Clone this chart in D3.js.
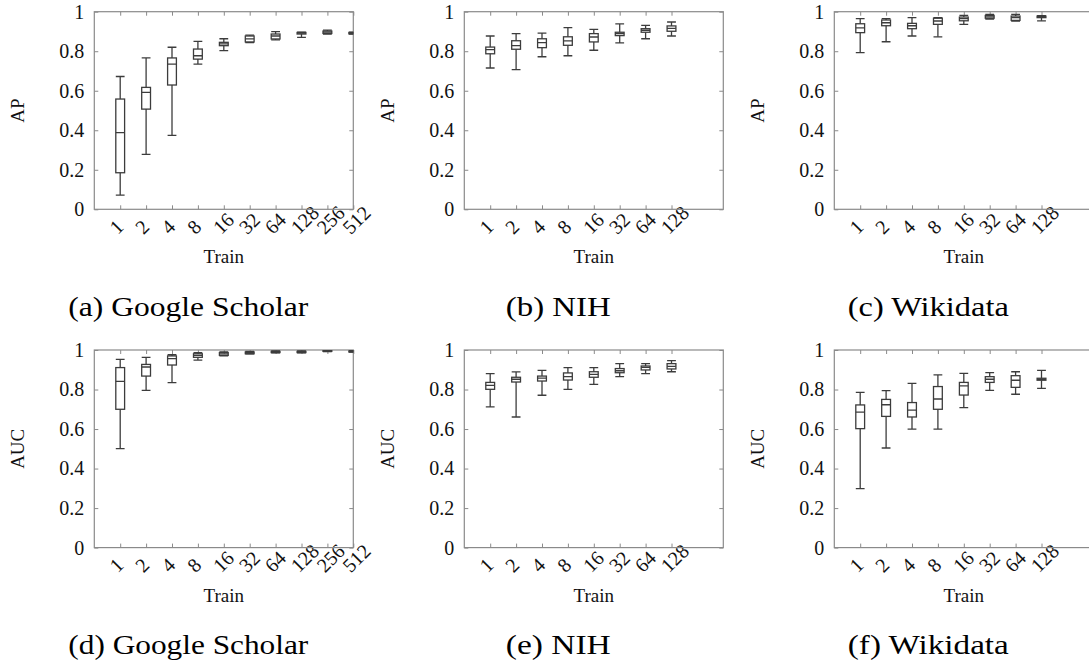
<!DOCTYPE html>
<html>
<head>
<meta charset="utf-8">
<script src="https://cdn.jsdelivr.net/npm/d3@7"></script>
<style>
  html, body { margin: 0; padding: 0; background: #fff; }
  svg { display: block; }
  svg text { font-family: "Liberation Serif", "Times New Roman", Times, serif; }
</style>
</head>
<body>
<svg id="fig" width="1089" height="664"></svg>
<script>
// Training-set sizes on the x axis (log2 spaced, one slot each)
const trainLabels = ["1", "2", "4", "8", "16", "32", "64", "128", "256", "512"];
const yTicks = [0, 0.2, 0.4, 0.6, 0.8, 1];

// Box statistics per training size: [lower whisker, Q1, median, Q3, upper whisker]
const apScholar = [
  [0.072, 0.185, 0.388, 0.558, 0.672],
  [0.278, 0.507, 0.592, 0.617, 0.766],
  [0.374, 0.629, 0.735, 0.766, 0.820],
  [0.735, 0.760, 0.777, 0.811, 0.850],
  [0.803, 0.828, 0.837, 0.845, 0.863],
  [0.843, 0.847, 0.862, 0.877, 0.881],
  [0.857, 0.862, 0.877, 0.887, 0.899],
  [0.870, 0.887, 0.892, 0.895, 0.897],
  [0.887, 0.890, 0.897, 0.902, 0.907],
  [0.887, 0.888, 0.892, 0.895, 0.897]
];
const apNih = [
  [0.715, 0.787, 0.808, 0.821, 0.877],
  [0.707, 0.810, 0.828, 0.853, 0.889],
  [0.772, 0.818, 0.843, 0.863, 0.892],
  [0.777, 0.830, 0.852, 0.873, 0.919],
  [0.805, 0.847, 0.872, 0.889, 0.911],
  [0.842, 0.879, 0.889, 0.896, 0.938],
  [0.863, 0.896, 0.906, 0.914, 0.931],
  [0.877, 0.901, 0.916, 0.928, 0.948]
];
const apWikidata = [
  [0.793, 0.894, 0.918, 0.939, 0.965],
  [0.848, 0.929, 0.944, 0.958, 0.965],
  [0.877, 0.914, 0.929, 0.941, 0.970],
  [0.873, 0.936, 0.953, 0.967, 0.970],
  [0.936, 0.954, 0.965, 0.973, 0.981],
  [0.963, 0.967, 0.974, 0.981, 0.986],
  [0.953, 0.956, 0.970, 0.978, 0.986],
  [0.954, 0.970, 0.975, 0.978, 0.980]
];
const aucScholar = [
  [0.501, 0.700, 0.841, 0.911, 0.953],
  [0.796, 0.868, 0.914, 0.927, 0.963],
  [0.835, 0.924, 0.956, 0.970, 0.976],
  [0.949, 0.963, 0.973, 0.981, 0.987],
  [0.971, 0.973, 0.980, 0.987, 0.990],
  [0.980, 0.981, 0.987, 0.990, 0.993],
  [0.985, 0.987, 0.990, 0.993, 0.995],
  [0.985, 0.987, 0.990, 0.993, 0.996],
  [0.992, 0.993, 0.995, 0.997, 0.998],
  [0.989, 0.990, 0.993, 0.995, 0.997]
];
const aucNih = [
  [0.712, 0.801, 0.821, 0.836, 0.880],
  [0.661, 0.838, 0.852, 0.862, 0.889],
  [0.771, 0.843, 0.858, 0.868, 0.897],
  [0.801, 0.848, 0.865, 0.884, 0.911],
  [0.826, 0.862, 0.877, 0.890, 0.911],
  [0.865, 0.885, 0.895, 0.906, 0.931],
  [0.880, 0.899, 0.912, 0.919, 0.931],
  [0.890, 0.904, 0.917, 0.931, 0.946]
];
const aucWikidata = [
  [0.298, 0.602, 0.686, 0.722, 0.786],
  [0.504, 0.664, 0.723, 0.750, 0.794],
  [0.600, 0.661, 0.696, 0.734, 0.831],
  [0.600, 0.700, 0.752, 0.815, 0.874],
  [0.708, 0.772, 0.818, 0.836, 0.882],
  [0.796, 0.836, 0.852, 0.865, 0.885],
  [0.776, 0.811, 0.847, 0.870, 0.890],
  [0.806, 0.847, 0.852, 0.857, 0.897]
];

const panels = [
  { key: "a", metric: "AP",  caption: "(a) Google Scholar", stats: apScholar,   col: 0, row: 0 },
  { key: "b", metric: "AP",  caption: "(b) NIH",            stats: apNih,       col: 1, row: 0 },
  { key: "c", metric: "AP",  caption: "(c) Wikidata",       stats: apWikidata,  col: 2, row: 0 },
  { key: "d", metric: "AUC", caption: "(d) Google Scholar", stats: aucScholar,  col: 0, row: 1 },
  { key: "e", metric: "AUC", caption: "(e) NIH",            stats: aucNih,      col: 1, row: 1 },
  { key: "f", metric: "AUC", caption: "(f) Wikidata",       stats: aucWikidata, col: 2, row: 1 }
];

// Panel geometry
const colLeft = [94.3, 464.3, 834.3];
const rowTop = [11.7, 350];
const plotW = 259, plotH = 197.6;
const captionLen = { a: 240, b: 105, c: 161, d: 240, e: 105, f: 161 };

const frameColor = "#8a8a8a";
const boxColor = "#3c3c3c";
const tickLen = 4;

const svg = d3.select("#fig");

panels.forEach(p => {
  const left = colLeft[p.col], top = rowTop[p.row];
  const g = svg.append("g").attr("transform", `translate(${left},${top})`);

  const x = d3.scaleLinear().domain([0, trainLabels.length]).range([0, plotW]);
  const y = d3.scaleLinear().domain([0, 1]).range([plotH, 0]);
  const tickIdx = d3.range(1, p.stats.length + 1);

  // clip region for marks
  g.append("clipPath").attr("id", "clip-" + p.key)
    .append("rect").attr("width", plotW).attr("height", plotH);

  // y axis (left with labels, right mirrored)
  const yl = g.append("g").call(d3.axisLeft(y).tickValues(yTicks).tickSize(-tickLen).tickPadding(10)
    .tickFormat(d => String(+d.toFixed(1))));
  const yr = g.append("g").attr("transform", `translate(${plotW},0)`)
    .call(d3.axisRight(y).tickValues(yTicks).tickSize(-tickLen).tickFormat(""));

  // x axis (bottom with labels, top mirrored)
  const xb = g.append("g").attr("transform", `translate(0,${plotH})`)
    .call(d3.axisBottom(x).tickValues(tickIdx).tickSize(-tickLen).tickFormat(""));
  const xt = g.append("g")
    .call(d3.axisTop(x).tickValues(tickIdx).tickSize(-tickLen).tickFormat(""));

  [yl, yr, xb, xt].forEach(a => {
    a.select(".domain").remove();
    a.selectAll(".tick line").attr("stroke", frameColor).attr("stroke-width", 1);
  });
  yl.selectAll(".tick text").attr("font-family", null)
    .attr("font-size", 20).attr("fill", "#111");

  // rotated x tick labels
  xb.selectAll(".tick").append("text")
    .attr("text-anchor", "start")
    .attr("font-size", 20).attr("fill", "#111")
    .attr("transform", "translate(-3,26) rotate(-45)")
    .text(d => trainLabels[d - 1]);

  // frame
  g.append("rect").attr("width", plotW).attr("height", plotH)
    .attr("fill", "none").attr("stroke", frameColor).attr("stroke-width", 1.2);

  // box plots
  const step = x(1) - x(0);
  const half = step * 0.17;
  const marks = g.append("g").attr("clip-path", `url(#clip-${p.key})`)
    .attr("stroke", boxColor).attr("stroke-width", 1.3).attr("fill", "none");
  const boxes = marks.selectAll("g.box").data(p.stats).join("g").attr("class", "box")
    .attr("transform", (d, i) => `translate(${x(i + 1)},0)`);
  // whiskers
  boxes.append("line").attr("x1", 0).attr("x2", 0)
    .attr("y1", d => y(d[0])).attr("y2", d => y(d[1]));
  boxes.append("line").attr("x1", 0).attr("x2", 0)
    .attr("y1", d => y(d[3])).attr("y2", d => y(d[4]));
  // caps
  boxes.append("line").attr("x1", -half).attr("x2", half)
    .attr("y1", d => y(d[0])).attr("y2", d => y(d[0]));
  boxes.append("line").attr("x1", -half).attr("x2", half)
    .attr("y1", d => y(d[4])).attr("y2", d => y(d[4]));
  // box
  boxes.append("rect").attr("x", -half).attr("width", 2 * half)
    .attr("y", d => y(d[3])).attr("height", d => y(d[1]) - y(d[3]));
  // median
  boxes.append("line").attr("x1", -half).attr("x2", half)
    .attr("y1", d => y(d[2])).attr("y2", d => y(d[2]));

  // axis titles
  g.append("text").attr("text-anchor", "middle")
    .attr("font-size", 19).attr("fill", "#111")
    .attr("x", plotW / 2).attr("y", plotH + 54).text("Train");
  g.append("text").attr("text-anchor", "middle")
    .attr("font-size", 19).attr("fill", "#111")
    .attr("transform", `translate(-70,${plotH / 2}) rotate(-90)`).text(p.metric);

  // caption
  g.append("text").attr("text-anchor", "middle")
    .attr("font-size", 27).attr("fill", "#000")
    .attr("textLength", captionLen[p.key]).attr("lengthAdjust", "spacingAndGlyphs")
    .attr("x", 94).attr("y", 304).text(p.caption);
});
</script>
</body>
</html>
